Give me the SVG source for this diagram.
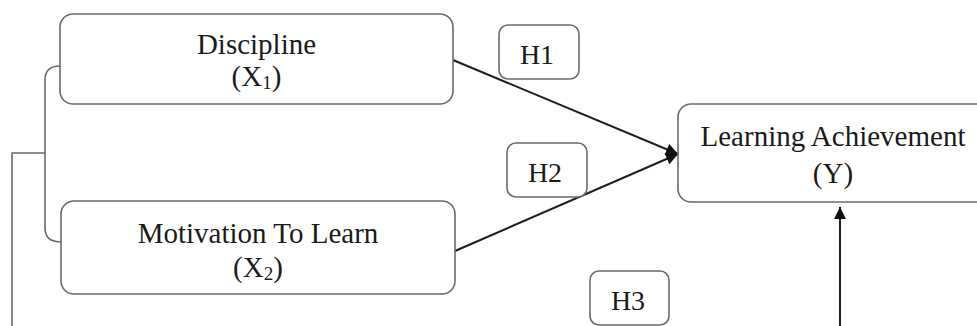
<svg xmlns="http://www.w3.org/2000/svg" width="977" height="326" viewBox="0 0 977 326">
<style>
.box{fill:#fff;stroke:#6a6a6a;stroke-width:1.6}
.t{font-family:"Liberation Serif","Times New Roman",serif;font-size:29px;fill:#1a1a1a;text-anchor:middle}
.h{font-family:"Liberation Serif","Times New Roman",serif;font-size:28px;fill:#1a1a1a;text-anchor:middle}
.ln{fill:none;stroke:#1e1e1e;stroke-width:2}
.br{fill:none;stroke:#6a6a6a;stroke-width:1.6}
</style>
<defs>
<marker id="ah2" viewBox="0 0 10 10" refX="10" refY="5" markerWidth="14" markerHeight="12" markerUnits="userSpaceOnUse" orient="auto">
<path d="M0,0 L10,5 L0,10 z" fill="#111"/>
</marker>
</defs>
<rect width="977" height="326" fill="#fff"/>
<g id="connectors">
<path class="br" d="M60,66 Q45,66 45,80 L45,228 Q45,242 61,242"/>
<path class="br" d="M45,153 L12,153 L12,326"/>
<line class="ln" x1="453" y1="60" x2="678" y2="154" marker-end="url(#ah2)"/>
<line class="ln" x1="455" y1="251" x2="678" y2="154" marker-end="url(#ah2)"/>
<line class="ln" x1="840" y1="326" x2="840" y2="207" marker-end="url(#ah2)"/>
</g>
<g id="discipline">
<rect class="box" x="60" y="14" width="393" height="90" rx="13"/>
<text class="t" x="256.5" y="54">Discipline</text>
<text class="t" x="256.5" y="86">(X<tspan font-size="19" dy="3">1</tspan><tspan dy="-3">)</tspan></text>
</g>
<g id="motivation">
<rect class="box" x="61" y="201" width="394" height="93" rx="13"/>
<text class="t" x="258" y="243">Motivation To Learn</text>
<text class="t" x="258" y="277">(X<tspan font-size="19" dy="3">2</tspan><tspan dy="-3">)</tspan></text>
</g>
<g id="achievement">
<rect class="box" x="678" y="104" width="312" height="98" rx="13"/>
<text class="t" x="833" y="146">Learning Achievement</text>
<text class="t" x="833" y="183">(Y)</text>
</g>
<g id="h1">
<rect class="box" x="499" y="25" width="80" height="54" rx="9"/>
<text class="h" x="537" y="64">H1</text>
</g>
<g id="h2">
<rect class="box" x="507" y="143" width="80" height="54" rx="9"/>
<text class="h" x="545" y="182">H2</text>
</g>
<g id="h3">
<rect class="box" x="590" y="271" width="79" height="54" rx="9"/>
<text class="h" x="628" y="310">H3</text>
</g>
</svg>
